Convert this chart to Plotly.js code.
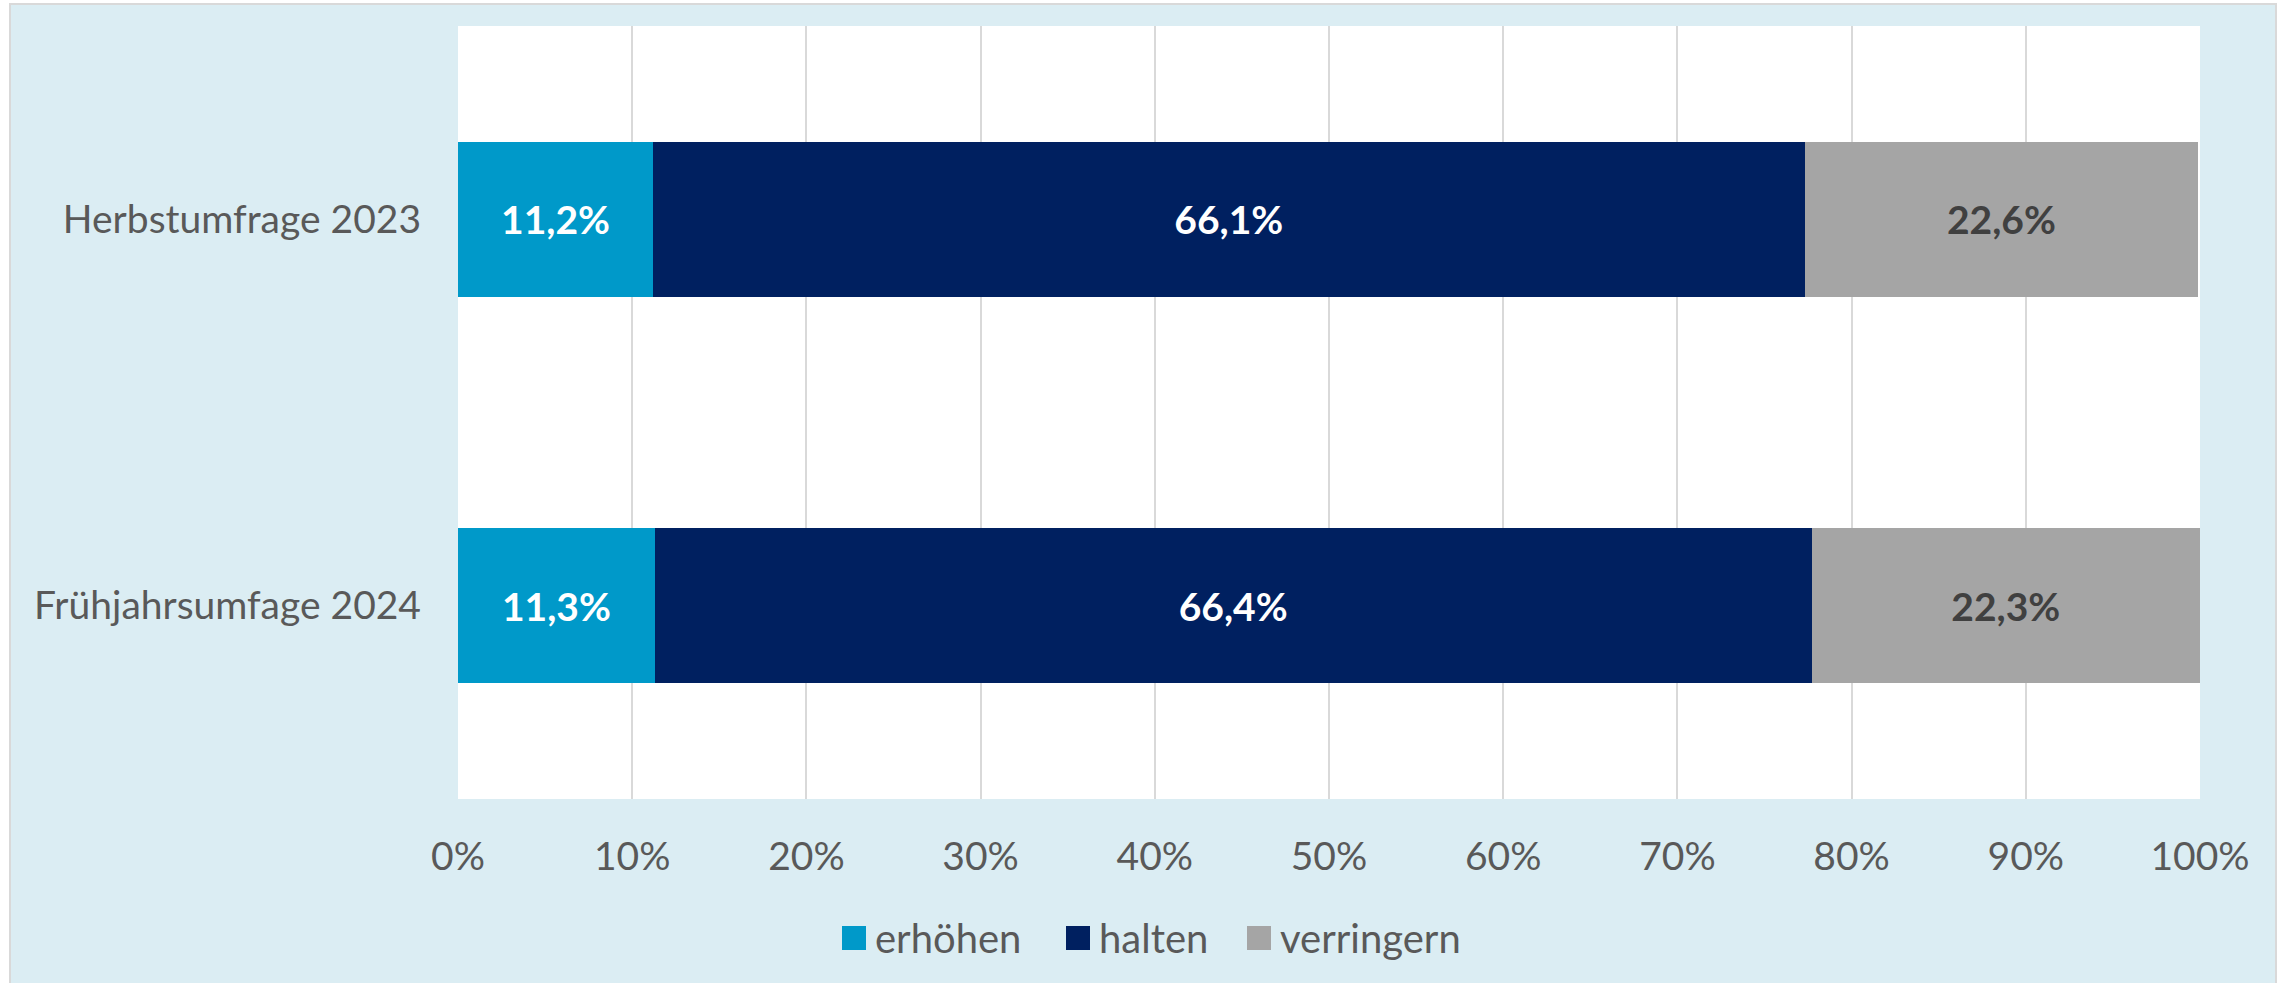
<!DOCTYPE html>
<html>
<head>
<meta charset="utf-8">
<script src="https://cdn.plot.ly/plotly-3.0.1.min.js"></script>
<style>
  html, body { margin: 0; padding: 0; background: #ffffff; overflow: hidden; width: 2281px; height: 983px; }
  #frame { position: absolute; left: 9px; top: 3px; width: 2268px; height: 982px;
           border: 2px solid #d9d9d9; border-bottom: none; box-sizing: border-box; background: #dbedf3; }
  #chart { position: absolute; left: 0; top: 0; width: 2264px; height: 978px; }
</style>
</head>
<body>
<div id="frame"><div id="chart"></div></div>
<script>
// ---- data ----
const categories = ['Herbstumfrage 2023', 'Frühjahrsumfage 2024'];
const seriesNames = ['erhöhen', 'halten', 'verringern'];
const erhoehen = [11.2, 11.3];
const halten = [66.1, 66.4];
const verringern = [22.6, 22.3];
const xTickValues = [0, 10, 20, 30, 40, 50, 60, 70, 80, 90, 100];
const xTickLabels = ['0%', '10%', '20%', '30%', '40%', '50%', '60%', '70%', '80%', '90%', '100%'];

// ---- style ----
const colors = ['#0099c9', '#002060', '#a5a5a5'];
const labelColors = ['#ffffff', '#ffffff', '#404040'];
const FONT = 'Lato, "Open Sans", sans-serif';
const seriesValues = [erhoehen, halten, verringern];

const traces = seriesNames.map((name, i) => ({
  type: 'bar',
  orientation: 'h',
  name: name,
  y: categories,
  x: seriesValues[i],
  marker: { color: colors[i], line: { width: 0 } },
  texttemplate: '%{x:.1f}%',
  textposition: 'inside',
  insidetextanchor: 'middle',
  constraintext: 'none',
  textfont: { family: FONT, size: 39, color: labelColors[i], weight: 'bold' },
  hoverinfo: 'skip',
  showlegend: false
}));

// plot area (in div pixel coords): left 447, right 2189, top 21, bottom 794
const W = 2264, H = 978;
const mL = 447, mR = W - 2189, mT = 21, mB = H - 794;
const plotW = W - mL - mR, plotH = H - mT - mB;
// div is offset by (11,5) on the page
const px = v => (v - 11 - mL) / plotW;
const py = v => (H - mB - (v - 5)) / plotH;

// manual legend (square + text) in page pixels
const legendSquares = [842, 1066, 1247];
const shapes = [];
const annotations = [];
seriesNames.forEach((name, i) => {
  const x0 = legendSquares[i];
  shapes.push({ type: 'rect', xref: 'paper', yref: 'paper',
    x0: px(x0), x1: px(x0 + 24), y0: py(950), y1: py(926),
    fillcolor: colors[i], line: { width: 0 } });
  annotations.push({ xref: 'paper', yref: 'paper', x: px(x0 + 31), y: py(938),
    xanchor: 'left', yanchor: 'middle', showarrow: false, text: name,
    font: { family: FONT, size: 40, color: '#595959' } });
});

const layout = {
  width: W, height: H,
  margin: { l: mL, r: mR, t: mT, b: mB, pad: 0 },
  paper_bgcolor: '#dbedf3',
  plot_bgcolor: '#ffffff',
  barmode: 'stack',
  bargap: 0.6,
  separators: ',.',
  showlegend: false,
  font: { family: FONT, color: '#595959', size: 39 },
  xaxis: {
    range: [0, 100],
    tickmode: 'array',
    tickvals: xTickValues,
    ticktext: xTickLabels,
    showgrid: true, gridcolor: '#d9d9d9', gridwidth: 2,
    zeroline: false, showline: false,
    ticks: '', ticklabelstandoff: 31,
    tickfont: { family: FONT, size: 39, color: '#595959' },
    fixedrange: true
  },
  yaxis: {
    type: 'category',
    categoryorder: 'array',
    categoryarray: categories,
    autorange: 'reversed',
    showgrid: false, zeroline: false, showline: false,
    ticks: '', ticklabelstandoff: 36,
    tickfont: { family: FONT, size: 39, color: '#595959' },
    fixedrange: true
  },
  shapes: shapes,
  annotations: annotations
};

Plotly.newPlot('chart', traces, layout, { displayModeBar: false, staticPlot: true });
</script>
</body>
</html>
